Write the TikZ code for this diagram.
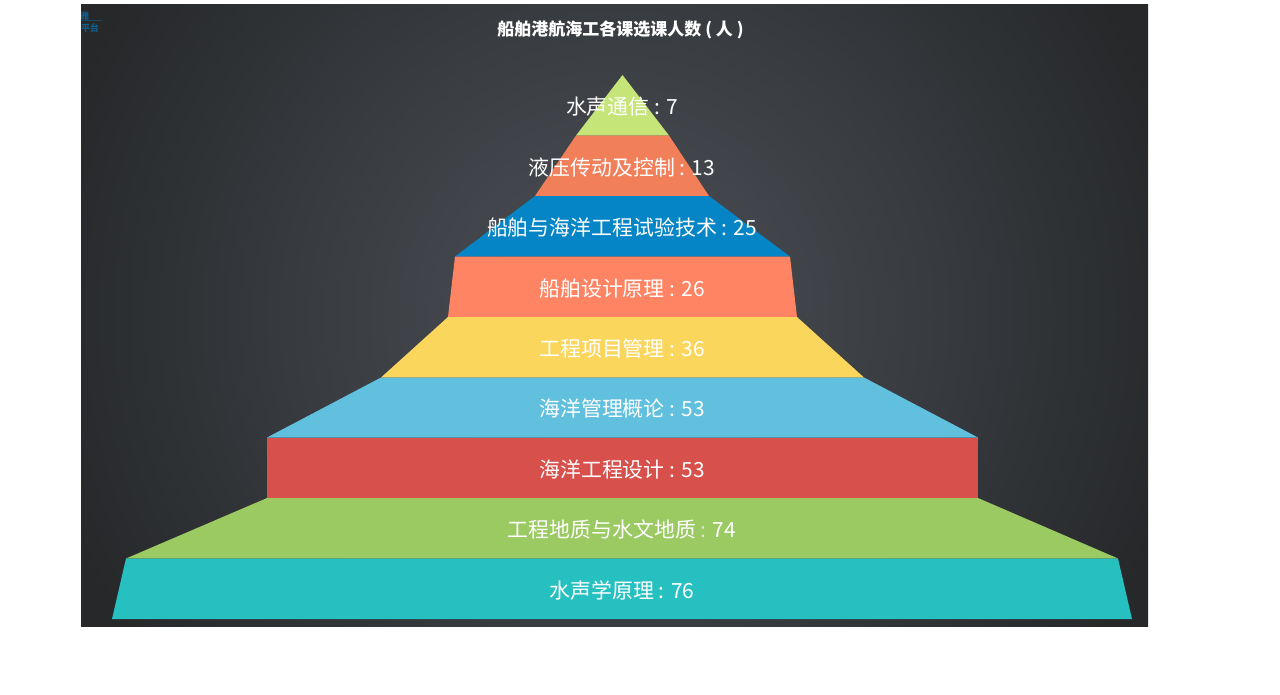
\documentclass[tikz,border=0pt]{standalone}
\usepackage{fontspec}
\setmainfont{Noto Sans CJK SC}
\definecolor{bgin}{HTML}{464A50}
\definecolor{bgout}{HTML}{26282A}
\pgfdeclareradialshading{bgglow}{\pgfpoint{0bp}{0bp}}{
  color(0bp)=(bgin);
  color(3.2bp)=(bgin);
  color(18.2bp)=(bgout);
  color(100bp)=(bgout)}
\definecolor{cteal}{HTML}{27C0C1}
\definecolor{cgreen}{HTML}{9BCA63}
\definecolor{cred}{HTML}{D7504B}
\definecolor{csky}{HTML}{60C0DD}
\definecolor{cyellow}{HTML}{FBD65D}
\definecolor{ccoral}{HTML}{FE8463}
\definecolor{cblue}{HTML}{0585C6}
\definecolor{csalmon}{HTML}{F17F5A}
\definecolor{clime}{HTML}{C5E579}
\definecolor{clogo}{HTML}{0C5F8E}
\tikzset{
  x=1pt,y=-1pt,
  band/.style={draw=none,inner sep=0pt},
  lab/.style={text=white,font=\fontsize{20.9}{24}\selectfont,inner sep=0pt,anchor=center},
  ttl/.style={text=white,font=\fontsize{17}{20}\selectfont\bfseries,inner sep=0pt,anchor=center},
  logo/.style={text=clogo,font=\fontsize{9}{10}\selectfont\bfseries,inner sep=0pt}
}
\begin{document}
\begin{tikzpicture}
\useasboundingbox (0,0) rectangle (1280,694);
\fill[white] (0,0) rectangle (1280,694);
\begin{scope}
\clip (81,4) rectangle (1148,626.8);
\path[shading=bgglow] (614,315) circle (800);
\end{scope}
\fill[band,clime]   (622.5,75) -- (669,135.5) -- (576,135.5) -- cycle;
\fill[band,csalmon] (576,135.5) -- (669,135.5) -- (709,196) -- (535,196) -- cycle;
\fill[band,cblue]   (535,196) -- (709,196) -- (790,256.5) -- (455,256.5) -- cycle;
\fill[band,ccoral]  (455,256.5) -- (790,256.5) -- (797,317) -- (448,317) -- cycle;
\fill[band,cyellow] (448,317) -- (797,317) -- (864,377.5) -- (381,377.5) -- cycle;
\fill[band,csky]    (381,377.5) -- (864,377.5) -- (978,437.5) -- (267,437.5) -- cycle;
\fill[band,cred]    (267,437.5) -- (978,437.5) -- (978,498) -- (267,498) -- cycle;
\fill[band,cgreen]  (267,498) -- (978,498) -- (1118,558.5) -- (126,558.5) -- cycle;
\fill[band,cteal]   (126,558.5) -- (1118,558.5) -- (1132,619) -- (112,619) -- cycle;
\node[ttl] (title) at (620.5,29.5) {船舶港航海工各课选课人数 ( 人 )};
\node[lab] (l1) at (622,106.5) {水声通信 : 7};
\node[lab] (l2) at (622,167.5) {液压传动及控制 : 13};
\node[lab] (l3) at (622,227.5) {船舶与海洋工程试验技术 : 25};
\node[lab] (l4) at (622,288.5) {船舶设计原理 : 26};
\node[lab] (l5) at (622,348.5) {工程项目管理 : 36};
\node[lab] (l6) at (622,408.5) {海洋管理概论 : 53};
\node[lab] (l7) at (622,469.5) {海洋工程设计 : 53};
\node[lab] (l8) at (622,529.5) {工程地质与水文地质 {\color{white!60!cgreen}:} 74};
\node[lab] (l9) at (622,590.5) {水声学原理 : 76};
\begin{scope}
\clip (81,4) rectangle (1148,627);
\node[logo,anchor=west] (lg1) at (80,16) {雅};
\node[logo,anchor=west] (lg2) at (81,27.5) {平台};
\draw[clogo,opacity=0.6,line width=0.7pt] (81,20.5) -- (102,20.5);
\end{scope}
\end{tikzpicture}
\end{document}
